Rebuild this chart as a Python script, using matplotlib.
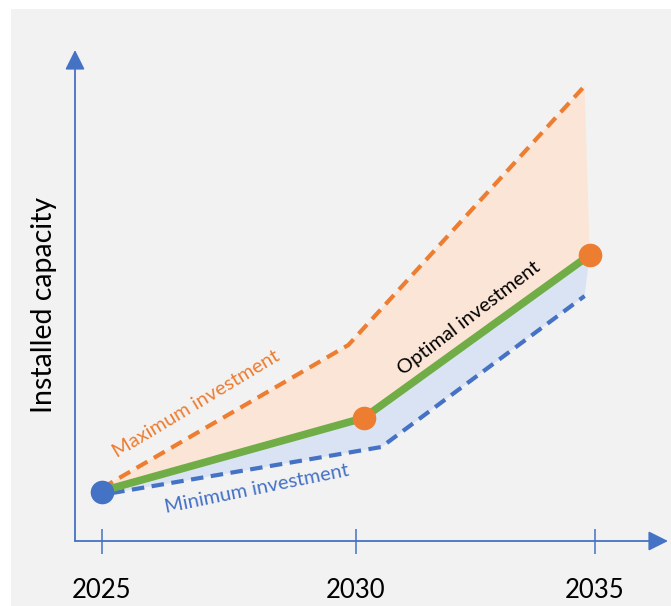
import matplotlib
matplotlib.use("Agg")
import matplotlib.pyplot as plt
from matplotlib.patches import Rectangle

# ---- data (schematic) ----
tick_years = [2025, 2030, 2034.7]
tick_labels = ["2025", "2030", "2035"]

opt_x = [2025.0, 2030.15, 2034.6]
opt_y = [5.0, 12.3, 28.6]

max_x = [2025.0, 2029.85, 2034.5]
max_y = [5.3, 19.6, 45.5]

min_x = [2025.2, 2030.5, 2034.5]
min_y = [4.8, 9.4, 24.5]

marker_x = [2025.0, 2030.15, 2034.6]
marker_y = [4.9, 12.3, 28.6]
marker_colors = ["#4472C4", "#ED7D31", "#ED7D31"]

ORANGE = "#ED7D31"
BLUE = "#4472C4"
GREEN = "#70AD47"

plt.rcParams['font.family'] = ['Lato', 'DejaVu Sans']

W, H = 671, 606
fig = plt.figure(figsize=(W / 100, H / 100), dpi=100)
fig.patch.set_facecolor("white")
fig.add_artist(Rectangle((11 / W, 0), 1 - 11 / W, (H - 9) / H,
                         transform=fig.transFigure, facecolor="#F2F2F2",
                         edgecolor="none", zorder=-10))

ox, oy = 75, 541
ax = fig.add_axes([ox / W, (H - oy) / H, (668 - ox) / W, (oy - 50) / H])
ax.set_facecolor("none")
ax.set_xlim(2025 - 27 / 50.8, 2025 + 566 / 50.8)
ax.set_ylim(0, 49.1)
for s in ax.spines.values():
    s.set_visible(False)

# axes arrows
arrow_style = "-|>,head_length=0.6,head_width=0.3"
ax.annotate("", xy=(0, 1), xytext=(0, 0), xycoords="axes fraction",
            arrowprops=dict(arrowstyle=arrow_style, color=BLUE, lw=1.3,
                            mutation_scale=20, shrinkA=0, shrinkB=0))
ax.annotate("", xy=(1, 0), xytext=(0, 0), xycoords="axes fraction",
            arrowprops=dict(arrowstyle=arrow_style, color=BLUE, lw=1.3,
                            mutation_scale=20, shrinkA=0, shrinkB=0))

ax.set_xticks(tick_years)
ax.set_xticklabels(tick_labels, fontsize=18.5)
ax.tick_params(axis="x", direction="inout", length=18, width=1.1,
               color=BLUE, pad=18, labelcolor="black")
ax.set_yticks([])
ax.set_ylabel("Installed capacity", fontsize=20.5, color="black")
ax.yaxis.set_label_coords(-0.03, 0.48)

# fills
ax.fill(max_x + opt_x[::-1], max_y + opt_y[::-1], color="#FBE5D6",
        lw=0, zorder=1)
ax.fill(opt_x + min_x[::-1], opt_y + min_y[::-1], color="#DAE3F3",
        lw=0, zorder=1)

# lines
l1, = ax.plot(max_x, max_y, color=ORANGE, lw=3, zorder=2)
l1.set_dashes((3, 1.8))
l2, = ax.plot(min_x, min_y, color=BLUE, lw=3, zorder=2)
l2.set_dashes((3, 1.8))
ax.plot(opt_x, opt_y, color=GREEN, lw=5.5, zorder=3, solid_capstyle="butt")

for x, y, c in zip(marker_x, marker_y, marker_colors):
    ax.plot([x], [y], marker="o", markersize=17, color=c, mec="none",
            zorder=4, clip_on=False)

ax.text(2026.85, 13.7, "Maximum investment", color=ORANGE, fontsize=14.5,
        rotation=31, ha="center", va="center", rotation_mode="anchor")
ax.text(2028.05, 5.2, "Minimum investment", color=BLUE, fontsize=14.5,
        rotation=11.5, ha="center", va="center", rotation_mode="anchor")
ax.text(2032.22, 22.3, "Optimal investment", color="black", fontsize=14.5,
        rotation=37.5, ha="center", va="center", rotation_mode="anchor")

fig.savefig("out.png", dpi=100)
